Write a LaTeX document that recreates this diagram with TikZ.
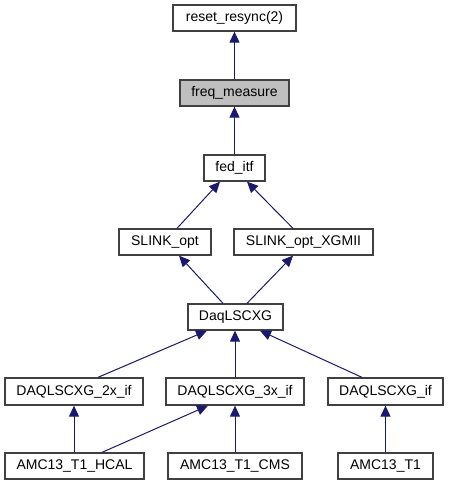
\documentclass[tikz,border=0pt]{standalone}
\usepackage{fontspec}
\setmainfont{Liberation Sans}
\usetikzlibrary{arrows.meta}
\definecolor{edgeblue}{HTML}{191970}
\definecolor{boxgray}{HTML}{BFBFBF}
\definecolor{boxline}{HTML}{404040}
\begin{document}
\begin{tikzpicture}[x=1pt,y=-1pt,
  cls/.style={draw=boxline,line width=1.3pt,fill=white,minimum height=26pt,inner sep=0pt,font=\fontsize{14}{16}\selectfont},
  cur/.style={cls,fill=boxgray},
  inh/.style={draw=edgeblue,line width=1pt,-{Triangle[length=11pt,width=10pt]},shorten >=0pt}]
\useasboundingbox (0,0) rectangle (449,485);
\node[cls,minimum width=123pt] (reset) at (234.5,18) {reset\_resync(2)};
\node[cur,minimum width=109pt] (freq) at (234.5,93) {freq\_measure};
\node[cls,minimum width=61pt] (fed) at (234.5,168) {fed\_itf};
\node[cls,minimum width=92pt] (sopt) at (165,242) {SLINK\_opt};
\node[cls,minimum width=139pt] (sxg) at (303.5,242) {SLINK\_opt\_XGMII};
\node[cls,minimum width=95pt] (daq) at (235.5,317) {DaqLSCXG};
\node[cls,minimum width=138pt,minimum height=27pt] (d2x) at (74,391.5) {DAQLSCXG\_2x\_if};
\node[cls,minimum width=138pt,minimum height=27pt] (d3x) at (235,391.5) {DAQLSCXG\_3x\_if};
\node[cls,minimum width=115pt,minimum height=27pt] (dif) at (385.5,391.5) {DAQLSCXG\_if};
\node[cls,minimum width=139pt] (hcal) at (74.5,466) {AMC13\_T1\_HCAL};
\node[cls,minimum width=134pt] (cms) at (235,466) {AMC13\_T1\_CMS};
\node[cls,minimum width=95pt] (t1) at (385.5,466) {AMC13\_T1};
\draw[inh] (freq.north) -- (reset.south);
\draw[inh] (fed.north) -- (freq.south);
\draw[inh] ([xshift=12pt]sopt.north) -- ([xshift=-14.5pt]fed.south);
\draw[inh] ([xshift=-10.5pt]sxg.north) -- ([xshift=12.5pt]fed.south);
\draw[inh] ([xshift=-12.5pt]daq.north) -- ([xshift=14pt]sopt.south);
\draw[inh] ([xshift=11.5pt]daq.north) -- ([xshift=-10.5pt]sxg.south);
\draw[inh] ([xshift=24pt]d2x.north) -- ([xshift=-28.5pt]daq.south);
\draw[inh] (d3x.north) -- (d3x.north |- daq.south);
\draw[inh] ([xshift=-23.5pt]dif.north) -- ([xshift=24.5pt]daq.south);
\draw[inh] (hcal.north -| d2x.south) -- (d2x.south);
\draw[inh] ([xshift=27.5pt]hcal.north) -- ([xshift=-27pt]d3x.south);
\draw[inh] (cms.north) -- (d3x.south);
\draw[inh] (t1.north) -- (dif.south);
\end{tikzpicture}
\end{document}
